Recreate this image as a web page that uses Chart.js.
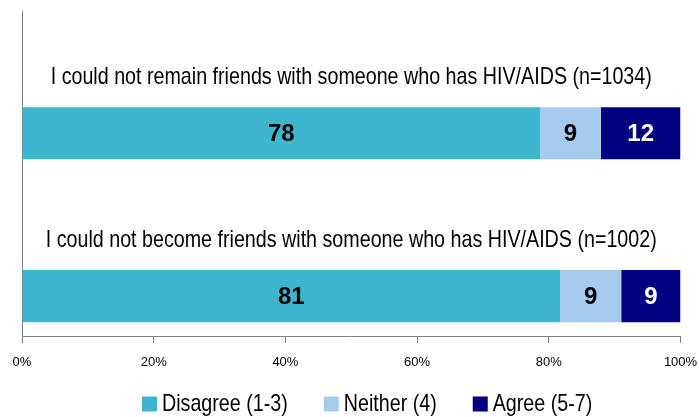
<!DOCTYPE html>
<html>
<head>
<meta charset="utf-8">
<script src="https://cdn.jsdelivr.net/npm/chart.js@4"></script>
<style>
  html, body { margin: 0; padding: 0; background: #fff; }
  #wrap { width: 699px; height: 417px; }
</style>
</head>
<body>
<div id="wrap"><canvas id="chart" width="699" height="417"></canvas></div>
<script>
const statements = [
    'I could not remain friends with someone who has HIV/AIDS (n=1034)',
    'I could not become friends with someone who has HIV/AIDS (n=1002)',
];
const disagree = [78.7, 81.7];
const neither = [9.2, 9.3];
const agree = [12.1, 9.0];
const disagreeLabels = ['78', '81'];
const neitherLabels = ['9', '9'];
const agreeLabels = ['12', '9'];
const xTicks = [0, 20, 40, 60, 80, 100];

// each statement gets an empty row above it, where its text is written
const rows = [];
statements.forEach(s => { rows.push(''); rows.push(s); });
const spread = arr => { const out = []; arr.forEach(v => { out.push(null); out.push(v); }); return out; };
const spreadLabels = arr => { const out = []; arr.forEach(v => { out.push(''); out.push(v); }); return out; };

const font = "'Liberation Sans', Arial, sans-serif";
const squeeze = 0.82; // the original text is narrow

function narrowText(ctx, txt, x, y) {
    ctx.save();
    ctx.translate(x, y);
    ctx.scale(squeeze, 1);
    ctx.fillText(txt, 0, 0);
    ctx.restore();
}

const textPlugin = {
    id: 'texts',
    afterDatasetsDraw(chart) {
        const ctx = chart.ctx;
        const area = chart.chartArea;
        ctx.save();
        ctx.font = 'bold 24px ' + font;
        ctx.textAlign = 'center';
        ctx.textBaseline = 'middle';
        chart.data.datasets.forEach((ds, i) => {
            chart.getDatasetMeta(i).data.forEach((bar, j) => {
                const txt = ds.valueLabels[j];
                if (!txt) return;
                ctx.fillStyle = ds.labelColor;
                ctx.fillText(txt, (bar.base + bar.x) / 2, bar.y + 1);
            });
        });
        // statement text above each bar
        const meta = chart.getDatasetMeta(0);
        ctx.font = '24px ' + font;
        ctx.fillStyle = '#000';
        ctx.textBaseline = 'alphabetic';
        chart.data.labels.forEach((lab, j) => {
            if (!lab) return;
            const bar = meta.data[j];
            narrowText(ctx, lab, (area.left + area.right) / 2, bar.y - bar.height / 2 - 23);
        });
        // legend
        ctx.textAlign = 'left';
        ctx.textBaseline = 'middle';
        let x = 142;
        const y = 404;
        chart.data.datasets.forEach(ds => {
            ctx.fillStyle = ds.backgroundColor;
            ctx.fillRect(x, y - 7.5, 15, 15);
            ctx.fillStyle = '#000';
            narrowText(ctx, ds.label, x + 20, y);
            x += 20 + ctx.measureText(ds.label).width * squeeze + 36;
        });
        ctx.restore();
    }
};

new Chart(document.getElementById('chart').getContext('2d'), {
    type: 'bar',
    data: {
        labels: rows,
        datasets: [
            {
                label: 'Disagree (1-3)',
                data: spread(disagree),
                valueLabels: spreadLabels(disagreeLabels),
                labelColor: '#000',
                backgroundColor: '#3EB7CE',
            },
            {
                label: 'Neither (4)',
                data: spread(neither),
                valueLabels: spreadLabels(neitherLabels),
                labelColor: '#000',
                backgroundColor: '#A6CAEE',
            },
            {
                label: 'Agree (5-7)',
                data: spread(agree),
                valueLabels: spreadLabels(agreeLabels),
                labelColor: '#fff',
                backgroundColor: '#000080',
            },
        ]
    },
    options: {
        indexAxis: 'y',
        responsive: false,
        animation: false,
        layout: { autoPadding: false, padding: { left: 22, right: 18.5, top: 11, bottom: 35.5 } },
        datasets: { bar: { barPercentage: 0.64, categoryPercentage: 1 } },
        plugins: {
            legend: { display: false },
            tooltip: { enabled: false }
        },
        scales: {
            x: {
                stacked: true,
                min: 0,
                max: 100,
                afterBuildTicks: axis => { axis.ticks = xTicks.map(v => ({ value: v })); },
                // the "100%" label may hang past the plot edge, as in the original
                afterFit: axis => { axis.paddingLeft = 0; axis.paddingRight = 0; },
                ticks: {
                    callback: v => v + '%',
                    color: '#000',
                    font: { family: font, size: 13 },
                    padding: 11.5,
                    maxRotation: 0,
                },
                grid: { drawOnChartArea: false, tickLength: 6, color: '#808080' },
                border: { color: '#808080' },
            },
            y: {
                stacked: true,
                ticks: { display: false },
                grid: { display: false, drawTicks: false },
                border: { color: '#808080' },
            }
        }
    },
    plugins: [ textPlugin ],
});
</script>
</body>
</html>
